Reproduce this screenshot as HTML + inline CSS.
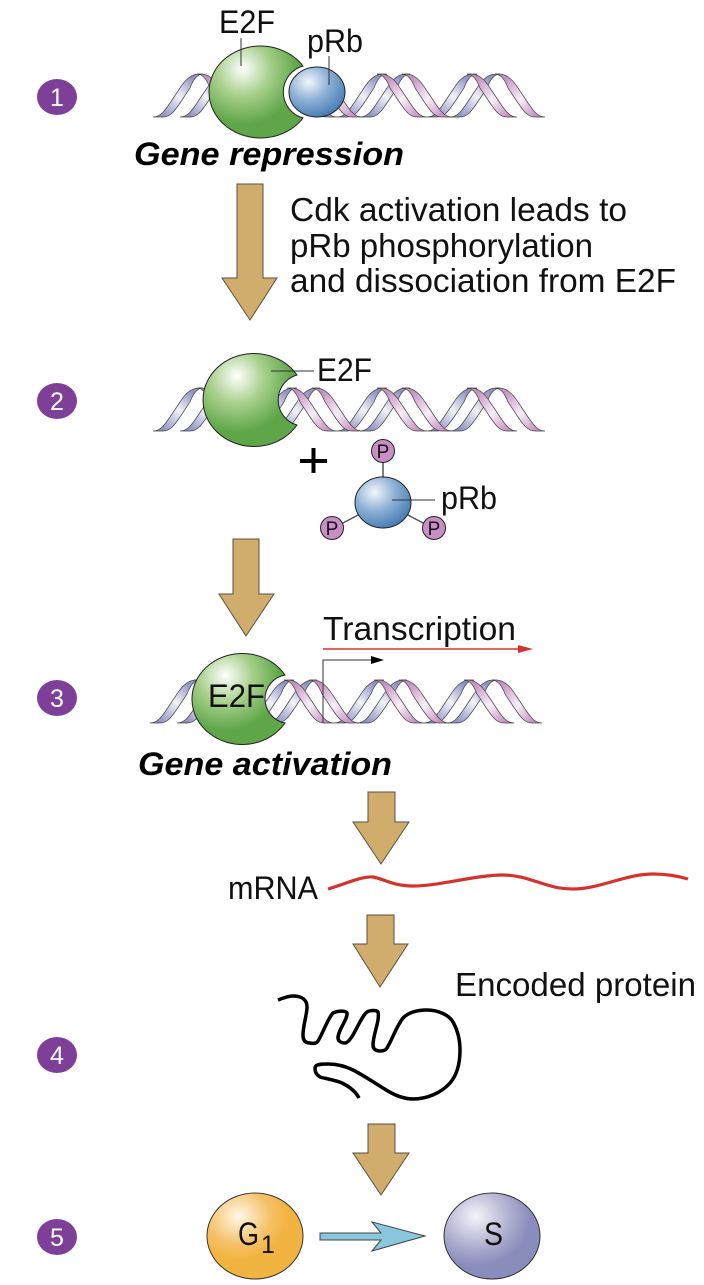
<!DOCTYPE html>
<html><head><meta charset="utf-8"><style>
html,body{margin:0;padding:0;background:#fff}
svg{display:block}
text{font-family:"Liberation Sans",sans-serif;fill:#111}
.b{font-weight:bold;font-style:italic;fill:#000}
.n{fill:#fff;font-size:25px;text-anchor:middle}
.a{fill:#d0ad6c;stroke:#5a5040;stroke-width:1}
.l{stroke:#333;stroke-width:1;fill:none}
</style></head><body>
<svg width="704" height="1285" viewBox="0 0 704 1285" xmlns="http://www.w3.org/2000/svg">
<defs>
<linearGradient id="bl" x1="0" y1="1" x2="1" y2="0"><stop offset=".1" stop-color="#8d8fc4"/><stop offset=".5" stop-color="#f2f2f8"/><stop offset=".85" stop-color="#9092c6"/></linearGradient>
<linearGradient id="pk" x1="0" y1="0" x2="1" y2="1"><stop offset=".15" stop-color="#c88fc2"/><stop offset=".55" stop-color="#f8f0f7"/><stop offset=".9" stop-color="#c88fc2"/></linearGradient>
<radialGradient id="gr" cx=".36" cy=".27" r=".72" fx=".36" fy=".24"><stop offset="0" stop-color="#fff"/><stop offset=".4" stop-color="#a8d08c"/><stop offset=".82" stop-color="#5ea648"/></radialGradient>
<radialGradient id="bu" cx=".35" cy=".3" r=".72"><stop offset="0" stop-color="#f2f6fb"/><stop offset=".5" stop-color="#8fb2d6"/><stop offset="1" stop-color="#4a7fb5"/></radialGradient>
<radialGradient id="or" cx=".33" cy=".27" r=".72"><stop offset="0" stop-color="#fff8e6"/><stop offset=".45" stop-color="#f5c26a"/><stop offset=".7" stop-color="#f2b440"/></radialGradient>
<radialGradient id="vi" cx=".33" cy=".27" r=".72"><stop offset="0" stop-color="#f4f4f9"/><stop offset=".5" stop-color="#aeaed0"/><stop offset=".8" stop-color="#8a8cbc"/></radialGradient>
<path id="r" d="M0 43C8 43 12 36 17 29L27 14C32 6 38 0 46 0L50 0C44 0 40 6 37 14L27 29C22 36 18 43 10 43Z" fill="url(#bl)" stroke="#444" stroke-width=".7"/>
<path id="f" d="M0 0L4 0C12 0 18 6 23 14L33 29C38 36 42 43 50 43L40 43C32 43 28 36 23 29L13 14C10 6 6 0 0 0Z" fill="url(#pk)" stroke="#444" stroke-width=".7"/>
<g id="dna">
<use href="#r" x="0"/><use href="#r" x="27"/><use href="#r" x="94"/><use href="#r" x="117"/><use href="#r" x="184"/><use href="#r" x="207"/><use href="#r" x="274"/><use href="#r" x="297"/>
<use href="#f" x="44"/><use href="#f" x="69"/><use href="#f" x="134"/><use href="#f" x="159"/><use href="#f" x="224"/><use href="#f" x="249"/><use href="#f" x="314"/><use href="#f" x="342"/>
</g>
<circle id="p" r="11.500" fill="#c98fc4" stroke="#222" stroke-width="1"/>
</defs>

<!-- Step 1 -->
<use href="#dna" x="153" y="74"/>
<path d="M303 66A27 27 0 0 0 303 118Z" fill="#fff"/>
<path d="M303 66A51.500 46 0 1 0 303 118A27 27 0 0 1 303 66Z" fill="url(#gr)" stroke="#222" stroke-width="1"/>
<ellipse cx="317" cy="92" rx="28" ry="25" fill="url(#bu)" stroke="#222" stroke-width="1"/>
<line class="l" x1="241" y1="38" x2="241" y2="66"/>
<line class="l" x1="329" y1="56" x2="329" y2="85"/>
<text x="219" y="33" font-size="32" textLength="56" lengthAdjust="spacingAndGlyphs">E2F</text>
<text x="307" y="52" font-size="32" textLength="56" lengthAdjust="spacingAndGlyphs">pRb</text>
<text class="b" x="134" y="165" font-size="32" textLength="270" lengthAdjust="spacingAndGlyphs">Gene repression</text>

<path class="a" d="M237 184H263V278H277L250 320L222 278H237Z"/>
<text x="290" y="221" font-size="33" textLength="337" lengthAdjust="spacingAndGlyphs">Cdk activation leads to</text>
<text x="290" y="257" font-size="33" textLength="303" lengthAdjust="spacingAndGlyphs">pRb phosphorylation</text>
<text x="290" y="292" font-size="33" textLength="386" lengthAdjust="spacingAndGlyphs">and dissociation from E2F</text>

<!-- Step 2 -->
<use href="#dna" x="153" y="388"/>
<path d="M297 375A51 46.500 0 1 0 297 425A26 26 0 0 1 297 375Z" fill="url(#gr)" stroke="#222" stroke-width="1"/>
<line class="l" x1="271" y1="371" x2="314" y2="371"/>
<text x="317" y="381" font-size="32" textLength="55" lengthAdjust="spacingAndGlyphs">E2F</text>
<path d="M300 461H327M313.500 448V473" stroke="#000" stroke-width="4" fill="none"/>
<path d="M383 460V480M341 524L360 514M425 524L406 514" stroke="#555" stroke-width="1.500" fill="none"/>
<ellipse cx="383" cy="502.500" rx="28" ry="25.500" fill="url(#bu)" stroke="#222" stroke-width="1"/>
<use href="#p" x="383" y="451"/><use href="#p" x="332" y="528"/><use href="#p" x="434" y="528"/>
<text x="383" y="458" font-size="19" text-anchor="middle">P</text>
<text x="332" y="535" font-size="19" text-anchor="middle">P</text>
<text x="434" y="535" font-size="19" text-anchor="middle">P</text>
<line class="l" x1="392" y1="500" x2="435" y2="500"/>
<text x="441" y="509" font-size="32" textLength="56" lengthAdjust="spacingAndGlyphs">pRb</text>

<path class="a" d="M233 539H259V594H274L246 636L219 594H233Z"/>

<!-- Step 3 -->
<use href="#dna" x="150" y="680"/>
<path d="M285 675A50.300 45.500 0 1 0 285 723A24.400 24.400 0 0 1 285 675Z" fill="url(#gr)" stroke="#222" stroke-width="1"/>
<text x="208" y="707" font-size="32" textLength="57" lengthAdjust="spacingAndGlyphs">E2F</text>
<text x="323" y="640" font-size="33" textLength="193" lengthAdjust="spacingAndGlyphs">Transcription</text>
<path d="M323 649H522" stroke="#d6322d" stroke-width="1.500"/>
<path d="M518 645L533 649L518 653Z" fill="#d6322d"/>
<path d="M323 723V660H373" class="l"/>
<path d="M371 656L384 660L371 664Z" fill="#000"/>
<text class="b" x="138" y="775" font-size="32" textLength="254" lengthAdjust="spacingAndGlyphs">Gene activation</text>

<path class="a" d="M368 792H395V822H409L381 864L353 822H368Z"/>
<text x="228" y="899" font-size="32" textLength="90" lengthAdjust="spacingAndGlyphs">mRNA</text>
<path d="M328 889C345 884 362 876 373 877C385 879 392 886 413 886C440 886 475 875 503 875C530 875 545 889 573 889C600 889 625 874 653 874C667 874 678 876 688 879" fill="none" stroke="#d6322d" stroke-width="3.200"/>

<path class="a" d="M367 915H394V944H408L380 987L353 944H367Z"/>
<text x="455" y="996" font-size="33" textLength="241" lengthAdjust="spacingAndGlyphs">Encoded protein</text>
<path d="M278 1000C283 998 288 996 293 996C301 996 307 999 307 1007C307 1015 303 1025 303 1035C303 1041 306 1043 310 1043C314 1044 317 1043 318 1041C323 1033 328 1018 333 1013C337 1011 345 1010 347 1013C348 1019 338 1030 338 1038C338 1041 341 1043 345 1043C352 1043 360 1017 367 1012C370 1010 377 1010 378 1012C380 1021 373 1034 373 1045C373 1049 376 1051 380 1051C383 1051 386 1050 387 1048C393 1038 396 1027 403 1018C409 1012 418 1010 427 1010C438 1010 449 1015 453 1022C458 1031 460 1040 460 1050C460 1063 457 1075 450 1083C441 1093 427 1099 413 1099C402 1099 392 1094 383 1088C373 1082 363 1075 353 1070C345 1066 336 1064 328 1064C322 1064 315 1064 315 1068C315 1073 317 1075 320 1077C327 1079 335 1080 342 1083C350 1087 356 1092 359 1098" fill="none" stroke="#000" stroke-width="3.500"/>

<path class="a" d="M368 1124H395V1153H409L381 1195L353 1153H368Z"/>

<!-- Step 5 -->
<ellipse cx="255" cy="1236" rx="48" ry="43" fill="url(#or)" stroke="#333" stroke-width="1"/>
<ellipse cx="492" cy="1236" rx="48" ry="43" fill="url(#vi)" stroke="#333" stroke-width="1"/>
<text x="238" y="1245" font-size="32" textLength="21" lengthAdjust="spacingAndGlyphs">G</text>
<text x="261" y="1253" font-size="25">1</text>
<text x="484" y="1245" font-size="32" textLength="19" lengthAdjust="spacingAndGlyphs">S</text>
<path d="M320 1233H381L372 1222L425 1236L372 1251L381 1240H320Z" fill="#8ac6dd" stroke="#444" stroke-width="1"/>

<!-- Step numbers -->
<ellipse cx="57" cy="97" rx="20" ry="18" fill="#7e3f98"/><text class="n" x="57" y="106">1</text>
<ellipse cx="57" cy="401" rx="20" ry="18" fill="#7e3f98"/><text class="n" x="57" y="410">2</text>
<ellipse cx="57" cy="698" rx="20" ry="18" fill="#7e3f98"/><text class="n" x="57" y="707">3</text>
<ellipse cx="57" cy="1055" rx="20" ry="18" fill="#7e3f98"/><text class="n" x="57" y="1064">4</text>
<ellipse cx="57" cy="1237" rx="20" ry="18" fill="#7e3f98"/><text class="n" x="57" y="1246">5</text>
</svg>
</body></html>
